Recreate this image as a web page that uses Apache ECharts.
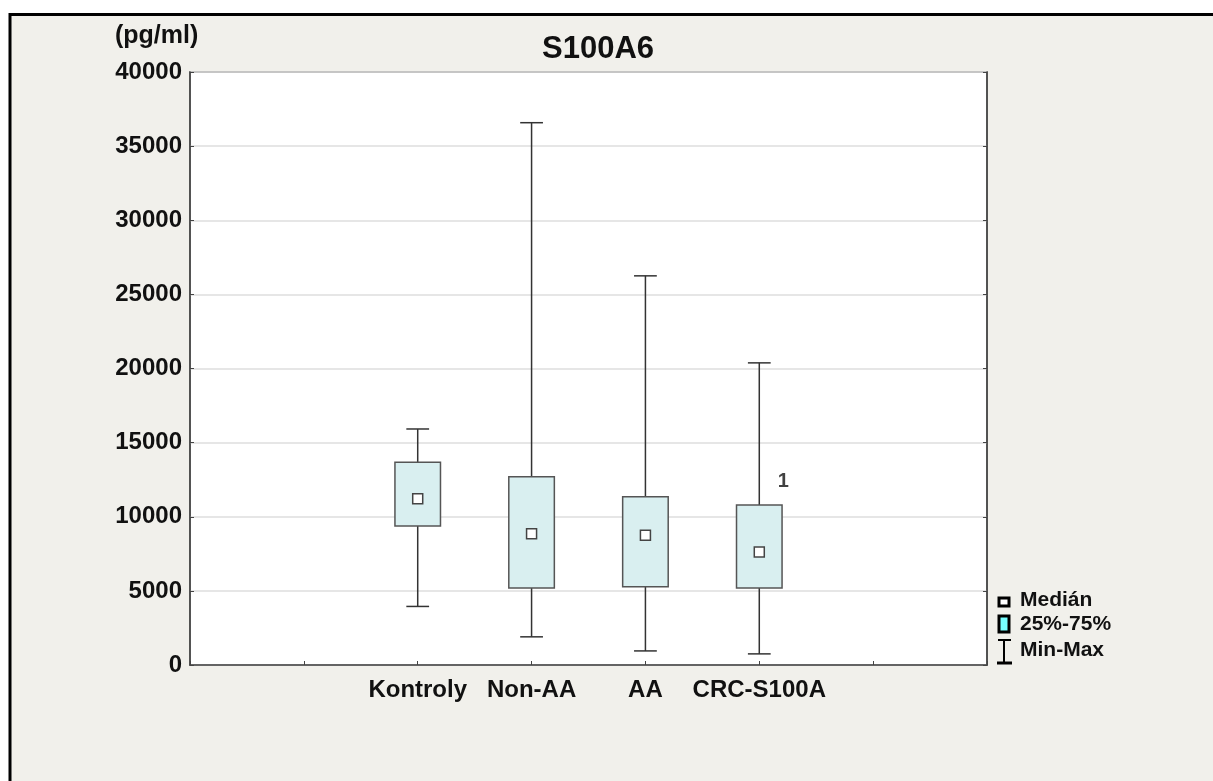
<!DOCTYPE html>
<html>
<head>
<meta charset="utf-8">
<script src="https://cdn.jsdelivr.net/npm/echarts@6/dist/echarts.min.js"></script>
<style>
  html, body { margin: 0; padding: 0; background: #fff; }
  #chart { width: 1213px; height: 781px; }
</style>
</head>
<body>
<div id="chart"></div>
<script>
// categories and box values (pg/ml)
var categories = ['Kontroly', 'Non-AA', 'AA', 'CRC-S100A'];
var minValues = [3950, 1900, 950, 750];
var q1Values = [9380, 5200, 5280, 5200];
var medianValues = [11220, 8850, 8750, 7620];
var q3Values = [13680, 12700, 11350, 10800];
var maxValues = [15920, 36580, 26250, 20380];
var yTicks = [0, 5000, 10000, 15000, 20000, 25000, 30000, 35000, 40000];
// outlier tag next to CRC-S100A
var outlierTags = [[5.21, 12400, '1']];

var FONT = 'Liberation Sans, Arial, sans-serif';

// x slots: two empty slots on the left, two on the right
var slots = ['', ''].concat(categories, ['', '']);

var boxData = categories.map(function (c, i) {
	return [i + 2, minValues[i], q1Values[i], medianValues[i], q3Values[i], maxValues[i]];
});

var chart = echarts.init(document.getElementById('chart'));

function renderBox(params, api) {
	var x = api.value(0);
	var pMin = api.coord([x, api.value(1)]);
	var pQ1 = api.coord([x, api.value(2)]);
	var pMed = api.coord([x, api.value(3)]);
	var pQ3 = api.coord([x, api.value(4)]);
	var pMax = api.coord([x, api.value(5)]);
	var slot = api.size([1, 0])[0];
	var half = slot * 0.2;
	var cap = slot * 0.1;
	var line = { stroke: '#333', lineWidth: 1.5 };
	return {
		type: 'group',
		children: [
			{ type: 'line', shape: { x1: pMax[0], y1: pMax[1], x2: pMin[0], y2: pMin[1] }, style: line },
			{ type: 'line', shape: { x1: pMax[0] - cap, y1: pMax[1], x2: pMax[0] + cap, y2: pMax[1] }, style: line },
			{ type: 'line', shape: { x1: pMin[0] - cap, y1: pMin[1], x2: pMin[0] + cap, y2: pMin[1] }, style: line },
			{ type: 'rect', shape: { x: pQ3[0] - half, y: pQ3[1], width: half * 2, height: pQ1[1] - pQ3[1] },
				style: { fill: '#d9eff0', stroke: '#555', lineWidth: 1.5 } },
			{ type: 'rect', shape: { x: pMed[0] - 5, y: pMed[1] - 5, width: 10, height: 10 },
				style: { fill: '#fff', stroke: '#444', lineWidth: 1.5 } }
		]
	};
}

var option = {
	animation: false,
	backgroundColor: '#fff',
	title: {
		text: 'S100A6',
		left: 593, top: 29, textAlign: 'center',
		textStyle: { fontFamily: FONT, fontSize: 31, fontWeight: 'bold', color: '#111' }
	},
	graphic: [
		{ type: 'rect', z: -100, shape: { x: 10, y: 14.5, width: 1300, height: 900 },
			style: { fill: '#f1f0eb', stroke: '#000', lineWidth: 3 } },
		{ type: 'text', left: 115, top: 24,
			style: { text: '(pg/ml)', font: 'bold 25px ' + FONT, fill: '#111' } },
		// legend
		{ type: 'rect', shape: { x: 999, y: 598, width: 10, height: 8 },
			style: { fill: '#fff', stroke: '#000', lineWidth: 3 } },
		{ type: 'rect', shape: { x: 999, y: 616, width: 10, height: 16 },
			style: { fill: '#7ff', stroke: '#000', lineWidth: 3 } },
		{ type: 'polyline', shape: { points: [[998, 640], [1011, 640]] }, style: { stroke: '#000', lineWidth: 2 } },
		{ type: 'polyline', shape: { points: [[1004, 640], [1004, 663]] }, style: { stroke: '#000', lineWidth: 2 } },
		{ type: 'polyline', shape: { points: [[997, 663], [1012, 663]] }, style: { stroke: '#000', lineWidth: 3 } },
		{ type: 'text', left: 1020, top: 590, style: { text: 'Medián', font: 'bold 21px ' + FONT, fill: '#111' } },
		{ type: 'text', left: 1020, top: 614, style: { text: '25%-75%', font: 'bold 21px ' + FONT, fill: '#111' } },
		{ type: 'text', left: 1020, top: 640, style: { text: 'Min-Max', font: 'bold 21px ' + FONT, fill: '#111' } }
	],
	grid: {
		left: 190, top: 72, right: 226, bottom: 116,
		show: true, backgroundColor: '#fff', borderColor: '#555', borderWidth: 1.5
	},
	xAxis: {
		type: 'value', min: 0, max: slots.length - 1, interval: 1,
		axisLine: { lineStyle: { color: '#444', width: 1.5 } },
		axisTick: { inside: true, length: 4, lineStyle: { color: '#444' } },
		splitLine: { show: false },
		axisLabel: {
			margin: 13, color: '#111', fontFamily: FONT, fontSize: 24, fontWeight: 'bold',
			formatter: function (v) { return slots[v] || ''; }
		}
	},
	yAxis: [{
		type: 'value', min: yTicks[0], max: yTicks[yTicks.length - 1], interval: 5000,
		axisLine: { show: true, lineStyle: { color: '#444', width: 1.5 } },
		axisTick: { show: true, inside: true, length: 4, lineStyle: { color: '#444' } },
		splitLine: { show: true, lineStyle: { color: '#dedede', width: 1.5 } },
		axisLabel: {
			margin: 8, color: '#111', fontFamily: FONT, fontSize: 24, fontWeight: 'bold',
			formatter: function (v) { return String(v); }
		}
	}, {
		type: 'value', position: 'right', min: yTicks[0], max: yTicks[yTicks.length - 1], interval: 5000,
		axisLine: { show: true, lineStyle: { color: '#444', width: 1.5 } },
		axisTick: { show: true, inside: true, length: 4, lineStyle: { color: '#444' } },
		splitLine: { show: false },
		axisLabel: { show: false }
	}],
	series: [{
		type: 'custom',
		renderItem: renderBox,
		encode: { x: 0, y: [1, 2, 3, 4, 5] },
		data: boxData,
		z: 5
	}, {
		type: 'scatter',
		symbolSize: 0,
		data: outlierTags,
		label: {
			show: true, position: 'inside', color: '#111',
			fontFamily: FONT, fontSize: 20, fontWeight: 'bold',
			formatter: function (p) { return p.data[2]; }
		},
		z: 6
	}]
};

chart.setOption(option);
</script>
</body>
</html>
